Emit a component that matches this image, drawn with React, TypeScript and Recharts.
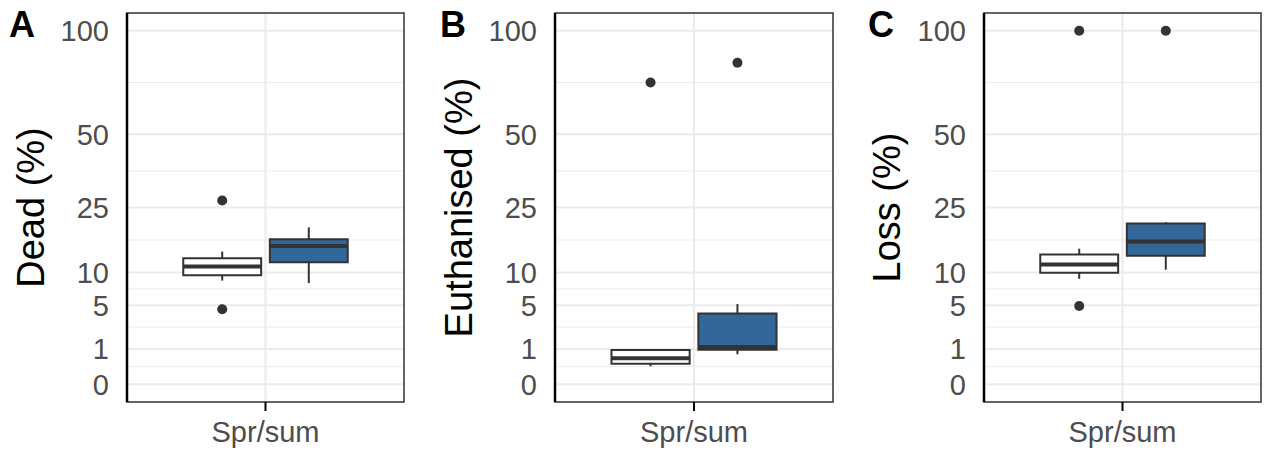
import {
  CartesianGrid,
  ComposedChart,
  ReferenceArea,
  ReferenceLine,
  Scatter,
  XAxis,
  YAxis,
} from "recharts";

// values in percent; each box = [lower whisker, Q1, median, Q3, upper whisker]
const panelLetters = ["A", "B", "C"];
const yTitles = ["Dead (%)", "Euthanised (%)", "Loss (%)"];
const categories = ["Spr/sum"];
const yTickValues = [0, 1, 5, 10, 25, 50, 100];
const groupFills = ["#FFFFFF", "#336699"];

const deadBoxes = [
  [8.6, 9.5, 11.1, 12.7, 14.1],
  [8.2, 11.9, 15.3, 16.8, 19.7],
];
const deadOutliers = [[27, 4.5], []];

const euthanisedBoxes = [
  [0.26, 0.34, 0.54, 0.94, 0.94],
  [0.72, 0.96, 1.11, 4.0, 5.15],
];
const euthanisedOutliers = [[72.8], [82.7]];

const lossBoxes = [
  [8.9, 9.95, 11.5, 13.5, 14.7],
  [10.5, 13.2, 16.3, 20.7, 21.0],
];
const lossOutliers = [[100, 4.9], [100]];

const INK = "#333333";
const GRID = "#EBEBEB";
const FONT = "'Liberation Sans', Arial, sans-serif";

// dodge layout for the two groups on the single category at x = 1
const dodge = [1 - 0.1875, 1 + 0.1875];
const halfWidth = 0.16875;

const majorY = yTickValues.map(Math.sqrt);
const minorY = majorY.slice(1).map((v, i) => (v + majorY[i]) / 2);

type PanelProps = {
  boxes: number[][];
  outliers: number[][];
  width: number;
  axisWidth: number;
  rightMargin: number;
};

function BoxPanel({ boxes, outliers, width, axisWidth, rightMargin }: PanelProps) {
  const points = outliers.flatMap((vals, g) =>
    vals.map((v) => ({ x: dodge[g], y: Math.sqrt(v) }))
  );
  return (
    <ComposedChart
      width={width}
      height={450}
      margin={{ top: 13, right: rightMargin, bottom: 0, left: 0 }}
    >
      <CartesianGrid
        horizontalValues={minorY}
        vertical={false}
        stroke={GRID}
        strokeWidth={1}
      />
      <CartesianGrid
        horizontalValues={majorY}
        verticalValues={[1]}
        stroke={GRID}
        strokeWidth={2}
      />
      <XAxis
        type="number"
        dataKey="x"
        domain={[0.4, 1.6]}
        ticks={[1]}
        interval={0}
        allowDataOverflow
        tickFormatter={() => categories[0]}
        height={48}
        axisLine={false}
        tickSize={9}
        tickMargin={10}
        tickLine={{ stroke: "#000", strokeWidth: 2 }}
        tick={{ fontSize: 29, fill: "#4D4D4D", fontFamily: FONT }}
      />
      <YAxis
        type="number"
        dataKey="y"
        domain={[-0.5, 10.5]}
        ticks={majorY}
        interval={0}
        allowDataOverflow
        width={axisWidth}
        tickFormatter={(v: number) => String(Math.round(v * v))}
        axisLine={false}
        tickLine={false}
        tickSize={0}
        tickMargin={18}
        tick={{ fontSize: 29, fill: "#4D4D4D", fontFamily: FONT }}
      />
      {boxes.map((b, g) => {
        const s = b.map(Math.sqrt);
        const c = dodge[g];
        return [
          <ReferenceLine
            key={"wl" + g}
            segment={[{ x: c, y: s[0] }, { x: c, y: s[1] }]}
            stroke={INK}
            strokeWidth={2}
          />,
          <ReferenceLine
            key={"wu" + g}
            segment={[{ x: c, y: s[3] }, { x: c, y: s[4] }]}
            stroke={INK}
            strokeWidth={2}
          />,
          <ReferenceArea
            key={"bx" + g}
            x1={c - halfWidth}
            x2={c + halfWidth}
            y1={s[1]}
            y2={s[3]}
            fill={groupFills[g]}
            fillOpacity={1}
            stroke={INK}
            strokeWidth={2}
          />,
          <ReferenceLine
            key={"md" + g}
            segment={[{ x: c - halfWidth, y: s[2] }, { x: c + halfWidth, y: s[2] }]}
            stroke={INK}
            strokeWidth={4}
          />,
        ];
      })}
      <Scatter
        data={points}
        dataKey="y"
        fill={INK}
        isAnimationActive={false}
        shape={(p: any) => <circle cx={p.cx} cy={p.cy} r={5} fill={INK} />}
      />
      <ReferenceArea
        x1={0.4}
        x2={1.6}
        y1={-0.5}
        y2={10.5}
        fill="none"
        fillOpacity={0}
        stroke={INK}
        strokeWidth={1.5}
      />
      <ReferenceLine x={0.4} stroke="#000" strokeWidth={2.5} />
    </ComposedChart>
  );
}

const panelBoxes = [deadBoxes, euthanisedBoxes, lossBoxes];
const panelOutliers = [deadOutliers, euthanisedOutliers, lossOutliers];
const panelLeft = [0, 420, 845];
const panelWidth = [420, 430, 420];
const panelAxisWidth = [127, 135, 139];
const panelRight = [16, 17, 4];
const letterX = [9, 440, 868];
const titleBaseline = [44, 472, 900];

export default function App() {
  return (
    <div
      style={{
        position: "absolute",
        left: 0,
        top: 0,
        width: 1265,
        height: 450,
        background: "#fff",
        fontFamily: FONT,
      }}
    >
      {panelBoxes.map((boxes, i) => (
        <div
          key={i}
          style={{ position: "absolute", left: panelLeft[i], top: 0 }}
        >
          <BoxPanel
            boxes={boxes}
            outliers={panelOutliers[i]}
            width={panelWidth[i]}
            axisWidth={panelAxisWidth[i]}
            rightMargin={panelRight[i]}
          />
        </div>
      ))}
      <svg
        width={1265}
        height={450}
        style={{ position: "absolute", left: 0, top: 0, pointerEvents: "none" }}
      >
        {panelLetters.map((l, i) => (
          <text
            key={l}
            x={letterX[i]}
            y={37}
            fontSize={36}
            fontWeight="bold"
            fontFamily={FONT}
            fill="#000"
          >
            {l}
          </text>
        ))}
        {yTitles.map((t, i) => (
          <text
            key={t}
            transform={`translate(${titleBaseline[i]},207.5) rotate(-90)`}
            textAnchor="middle"
            fontSize={38}
            fontFamily={FONT}
            fill="#000"
          >
            {t}
          </text>
        ))}
      </svg>
    </div>
  );
}
